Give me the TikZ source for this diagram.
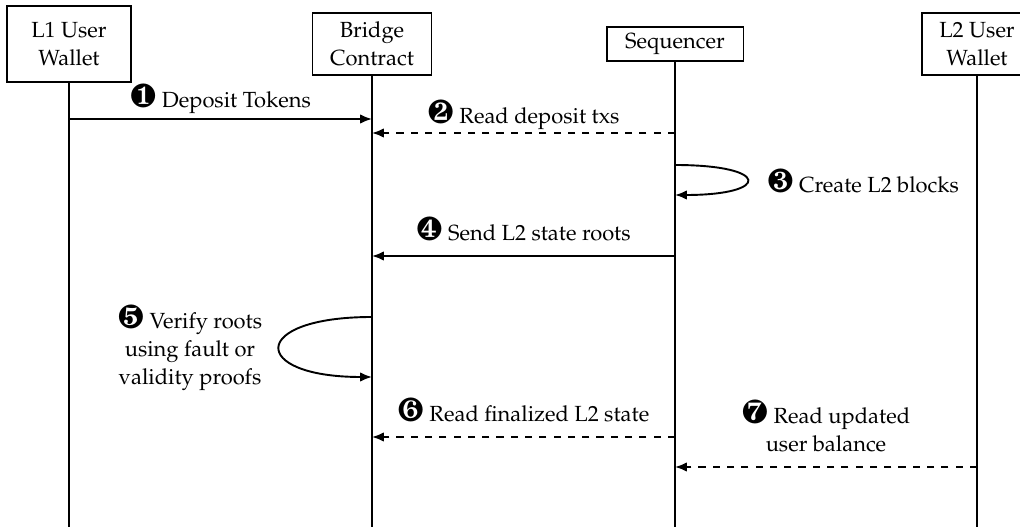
\documentclass[tikz,border=0pt]{standalone}
\usepackage[T1]{fontenc}
\usepackage{mathpazo}
\usepackage{pifont}
\usepackage{tikz}
\usetikzlibrary{arrows.meta, positioning}

\newcommand{\stepnum}[1]{{\fontsize{14}{14}\selectfont\ding{#1}}}

\begin{document}
\begin{tikzpicture}[x=0.42pt, y=-0.42pt, >={Latex[length=5pt,width=4pt]}, thick,
    font=\fontsize{9.2}{11.8}\selectfont,
    actor/.style={draw, fill=white, align=center, inner sep=2pt},
    msg/.style={->},
    reply/.style={->, dashed},
    lbl/.style={align=center, inner sep=1pt}]
    \useasboundingbox (0,0) rectangle (1020,527);
    \coordinate (bottom) at (0,527);

    % participants
    \node[actor, minimum width=52pt, minimum height=32pt] (l1) at (69,44) {L1 User\\Wallet};
    \node[actor, minimum width=50pt, minimum height=26pt] (bc) at (372,44) {Bridge\\Contract};
    \node[actor, minimum width=57.5pt, minimum height=14.3pt] (sq) at (675,44) {Sequencer};
    \node[actor, minimum width=46pt, minimum height=26pt] (l2) at (977,44) {L2 User\\Wallet};

    % lifelines
    \foreach \p in {l1, bc, sq, l2}
        \draw (\p.south) -- (\p |- bottom);

    % messages
    \coordinate (m1) at (0,119);
    \coordinate (m2) at (0,133);
    \coordinate (m4) at (0,256);
    \coordinate (m6) at (0,437);
    \coordinate (m7) at (0,467);

    \draw[msg] (l1 |- m1) -- node[lbl, above=1pt] {\stepnum{182} Deposit Tokens} (bc |- m1);
    \draw[reply] (sq |- m2) -- node[lbl, above=0pt] {\stepnum{183} Read deposit txs} (bc |- m2);

    \coordinate (s3a) at (675,165);
    \coordinate (s3b) at (675,195);
    \draw[msg] (s3a) .. controls +(96,0) and +(96,0) .. (s3b);
    \node[lbl, anchor=west] (t3) at (764,181) {\stepnum{184} Create L2 blocks};

    \draw[msg] (sq |- m4) -- node[lbl, above=5pt] {\stepnum{185} Send L2 state roots} (bc |- m4);

    \coordinate (s5a) at (372,317);
    \coordinate (s5b) at (372,377);
    \draw[msg] (s5a) .. controls +(-123,0) and +(-123,0) .. (s5b);
    \node[lbl] (t5) at (190,348) {\stepnum{186} Verify roots\\using fault or\\validity proofs};

    \draw[reply] (sq |- m6) -- node[lbl, above=5pt] {\stepnum{187} Read finalized L2 state} (bc |- m6);
    \draw[reply] (l2 |- m7) -- node[lbl, above=5pt] {\stepnum{188} Read updated\\user balance} (sq |- m7);
\end{tikzpicture}
\end{document}
